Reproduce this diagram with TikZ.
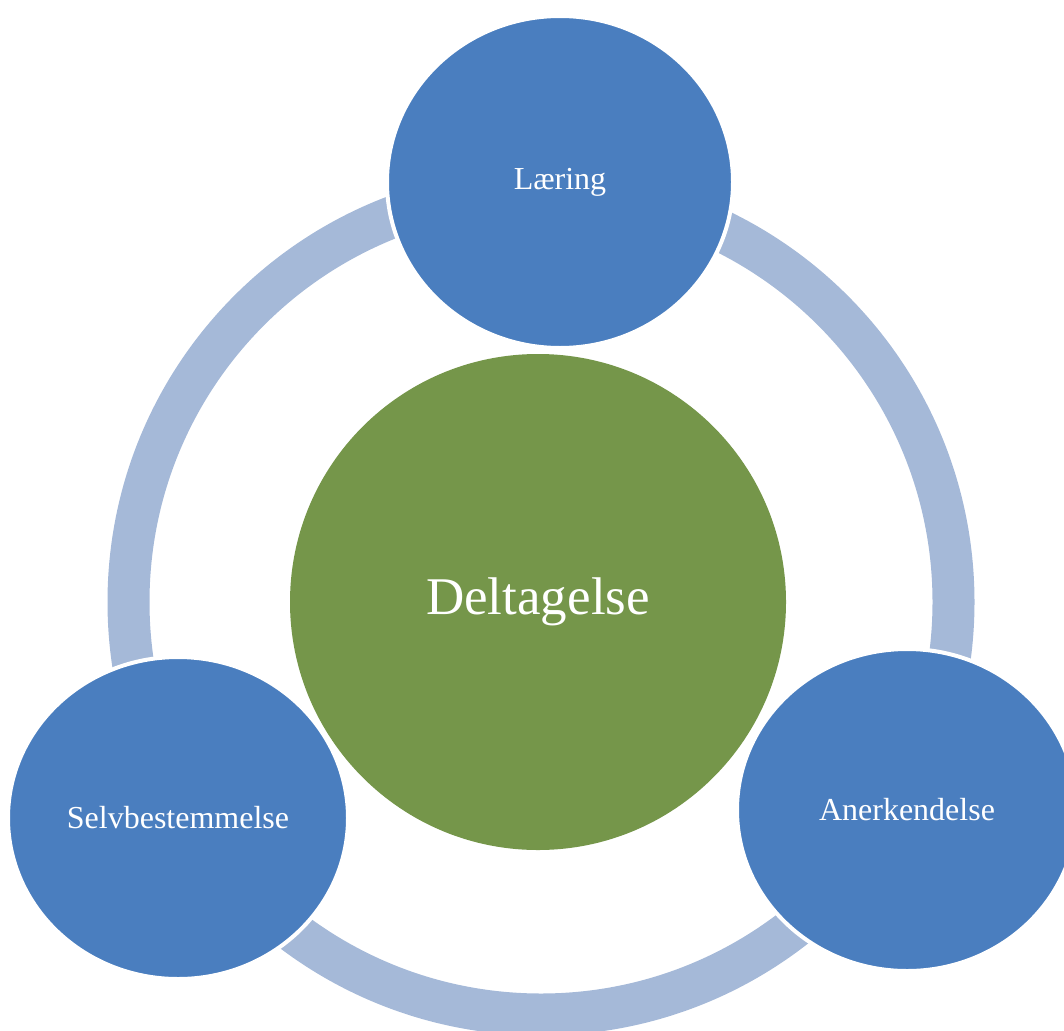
\documentclass[tikz,border=0pt]{standalone}
\usepackage{fontspec}
\setmainfont{Liberation Serif}
\usetikzlibrary{shapes.geometric}

\definecolor{ringblue}{HTML}{A5B9D8}
\definecolor{topicblue}{HTML}{4A7EBF}
\definecolor{coregreen}{HTML}{75964A}

\begin{document}
\begin{tikzpicture}[x=1pt, y=-1pt,
    ring/.style={draw=ringblue, line width=42pt},
    core/.style={circle, fill=coregreen, text=white, inner sep=0pt,
        minimum size=496pt, font=\fontsize{53}{60}\selectfont},
    topic/.style={ellipse, fill=topicblue, draw=white, line width=4pt,
        text=white, inner sep=0pt, minimum width=340pt, minimum height=322pt,
        font=\fontsize{32}{38}\selectfont}]

    \useasboundingbox (0,0) rectangle (1064,1030);

    % Ring behind everything
    \coordinate (mid) at (541,602);
    \draw[ring] (mid) circle[radius=412.5pt];

    % Centre circle
    \node[core] (deltagelse) at (538,602) {Deltagelse};

    % Outer circles
    \node[topic, minimum width=346pt, minimum height=332pt] (laering) at (560,182) {Læring};
    \node[topic] (selvbest) at (178,818) {Selvbestemmelse};
    \node[topic] (anerk) at (907,810) {Anerkendelse};

\end{tikzpicture}
\end{document}
